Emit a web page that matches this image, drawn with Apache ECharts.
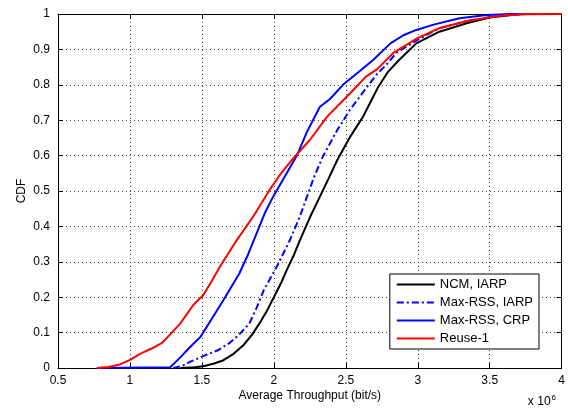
<!DOCTYPE html>
<html>
<head>
<meta charset="utf-8">
<script src="https://cdn.jsdelivr.net/npm/echarts@6/dist/echarts.min.js"></script>
<style>
  html, body { margin: 0; padding: 0; background: #fff; }
  #chart { width: 568px; height: 409px; }
</style>
</head>
<body>
<div id="chart"></div>
<script>
// throughput in units of 1e6 bit/s, CDF values
const seriesNames = ["NCM, IARP", "Max-RSS, IARP", "Max-RSS, CRP", "Reuse-1"]

const ncmIarp = [
  [1.35, 0], [1.45, 0.002], [1.51, 0.005], [1.58, 0.012], [1.65, 0.022], [1.72, 0.04],
  [1.79, 0.065], [1.85, 0.095], [1.9, 0.126], [1.95, 0.16], [2.0, 0.2], [2.05, 0.24],
  [2.09, 0.277], [2.14, 0.32], [2.18, 0.36], [2.25, 0.425], [2.32, 0.484], [2.38, 0.535],
  [2.44, 0.587], [2.53, 0.653], [2.62, 0.71], [2.67, 0.75], [2.72, 0.79], [2.79, 0.835],
  [2.87, 0.87], [2.99, 0.917], [3.15, 0.95], [3.34, 0.974], [3.5, 0.99], [3.7, 0.999], [4, 1]
]

const maxRssIarp = [
  [1.3, 0], [1.36, 0.005], [1.42, 0.018], [1.53, 0.037], [1.61, 0.05], [1.69, 0.07],
  [1.76, 0.095], [1.83, 0.126], [1.88, 0.17], [1.93, 0.22], [2.02, 0.286], [2.11, 0.36],
  [2.18, 0.427], [2.23, 0.484], [2.28, 0.54], [2.34, 0.597], [2.44, 0.672], [2.53, 0.73],
  [2.64, 0.79], [2.72, 0.832], [2.79, 0.86], [2.85, 0.89], [2.99, 0.925], [3.15, 0.96],
  [3.34, 0.98], [3.55, 0.995], [3.75, 1], [4, 1]
]

const maxRssCrp = [
  [0.77, 0], [1.28, 0.002], [1.35, 0.03], [1.42, 0.06], [1.49, 0.088], [1.57, 0.14],
  [1.65, 0.192], [1.76, 0.267], [1.82, 0.32], [1.88, 0.38], [1.94, 0.44], [1.995, 0.484],
  [2.06, 0.53], [2.11, 0.565], [2.16, 0.6], [2.23, 0.667], [2.32, 0.738], [2.39, 0.76],
  [2.48, 0.8], [2.57, 0.83], [2.69, 0.87], [2.81, 0.917], [2.9, 0.94], [2.99, 0.955],
  [3.11, 0.97], [3.29, 0.988], [3.48, 0.997], [3.65, 1], [4, 1]
]

const reuse1 = [
  [0.77, 0], [0.85, 0.003], [0.93, 0.01], [1.0, 0.023], [1.07, 0.04], [1.15, 0.055],
  [1.22, 0.07], [1.28, 0.095], [1.35, 0.126], [1.44, 0.178], [1.51, 0.206], [1.56, 0.24],
  [1.625, 0.286], [1.74, 0.36], [1.86, 0.43], [1.97, 0.503], [2.05, 0.55], [2.13, 0.59],
  [2.25, 0.644], [2.37, 0.71], [2.53, 0.776], [2.64, 0.823], [2.72, 0.845], [2.83, 0.89],
  [2.99, 0.93], [3.15, 0.96], [3.34, 0.98], [3.57, 0.995], [3.75, 1], [4, 1]
]

const xTicks = { min: 0.5, max: 4, step: 0.5 }
const yTicks = { min: 0, max: 1, step: 0.1 }

const font = "'Liberation Sans', Arial, Helvetica, sans-serif"

const chart = echarts.init(document.getElementById("chart"))

const gridLine = { show: true, lineStyle: { color: "#444", type: [1, 3], width: 1 } }
const frameLine = { show: true, onZero: false, lineStyle: { color: "#000", width: 1 } }
const innerTick = { show: true, inside: true, length: 5, lineStyle: { color: "#000" } }

function lineSeries(name, data, color, type) {
  return {
    name,
    type: "line",
    data,
    symbol: "none",
    animation: false,
    lineStyle: { color, width: 2, type },
    itemStyle: { color },
  }
}

chart.setOption({
  animation: false,
  textStyle: { fontFamily: font },
  grid: { left: 58, right: 6, top: 14, bottom: 41 },
  xAxis: [
    {
      type: "value",
      min: xTicks.min,
      max: xTicks.max,
      interval: xTicks.step,
      name: "Average Throughput (bit/s)",
      nameLocation: "middle",
      nameGap: 22,
      nameMoveOverlap: false,
      nameTextStyle: { fontSize: 12, color: "#000", fontFamily: font },
      axisLine: frameLine,
      axisTick: innerTick,
      axisLabel: { fontSize: 12, color: "#000", margin: 7, fontFamily: font },
      splitLine: gridLine,
    },
    {
      type: "value",
      position: "top",
      min: xTicks.min,
      max: xTicks.max,
      interval: xTicks.step,
      axisLine: frameLine,
      axisTick: innerTick,
      axisLabel: { show: false },
      splitLine: { show: false },
    },
  ],
  yAxis: [
    {
      type: "value",
      min: yTicks.min,
      max: yTicks.max,
      interval: yTicks.step,
      name: "CDF",
      nameLocation: "middle",
      nameGap: 30,
      nameMoveOverlap: false,
      nameRotate: 90,
      nameTextStyle: { fontSize: 12, color: "#000", fontFamily: font },
      axisLine: frameLine,
      axisTick: innerTick,
      axisLabel: { fontSize: 12, color: "#000", margin: 8, fontFamily: font },
      splitLine: gridLine,
    },
    {
      type: "value",
      position: "right",
      min: yTicks.min,
      max: yTicks.max,
      interval: yTicks.step,
      axisLine: frameLine,
      axisTick: innerTick,
      axisLabel: { show: false },
      splitLine: { show: false },
    },
  ],
  legend: {
    orient: "vertical",
    right: 29,
    bottom: 60,
    padding: [4, 6, 4, 6],
    itemWidth: 38,
    itemHeight: 14,
    itemGap: 5,
    backgroundColor: "#fff",
    borderColor: "#000",
    borderWidth: 1,
    borderRadius: 0,
    itemStyle: { opacity: 0, borderWidth: 0 },
    textStyle: { fontSize: 13, color: "#000", fontFamily: font },
    data: seriesNames,
  },
  series: [
    lineSeries(seriesNames[0], ncmIarp, "#000000", "solid"),
    lineSeries(seriesNames[1], maxRssIarp, "#0000ff", [7, 3, 2, 3]),
    lineSeries(seriesNames[2], maxRssCrp, "#0000ff", "solid"),
    lineSeries(seriesNames[3], reuse1, "#ff0000", "solid"),
  ],
  graphic: [
    {
      type: "text",
      right: 12,
      bottom: 1,
      style: {
        text: "{a|x 10}{b|6}",
        rich: {
          a: { fontSize: 12, fontFamily: font, fill: "#000" },
          b: { fontSize: 8, fontFamily: font, fill: "#000", verticalAlign: "top", padding: [0, 0, 8, 1] },
        },
      },
    },
  ],
})
</script>
</body>
</html>
